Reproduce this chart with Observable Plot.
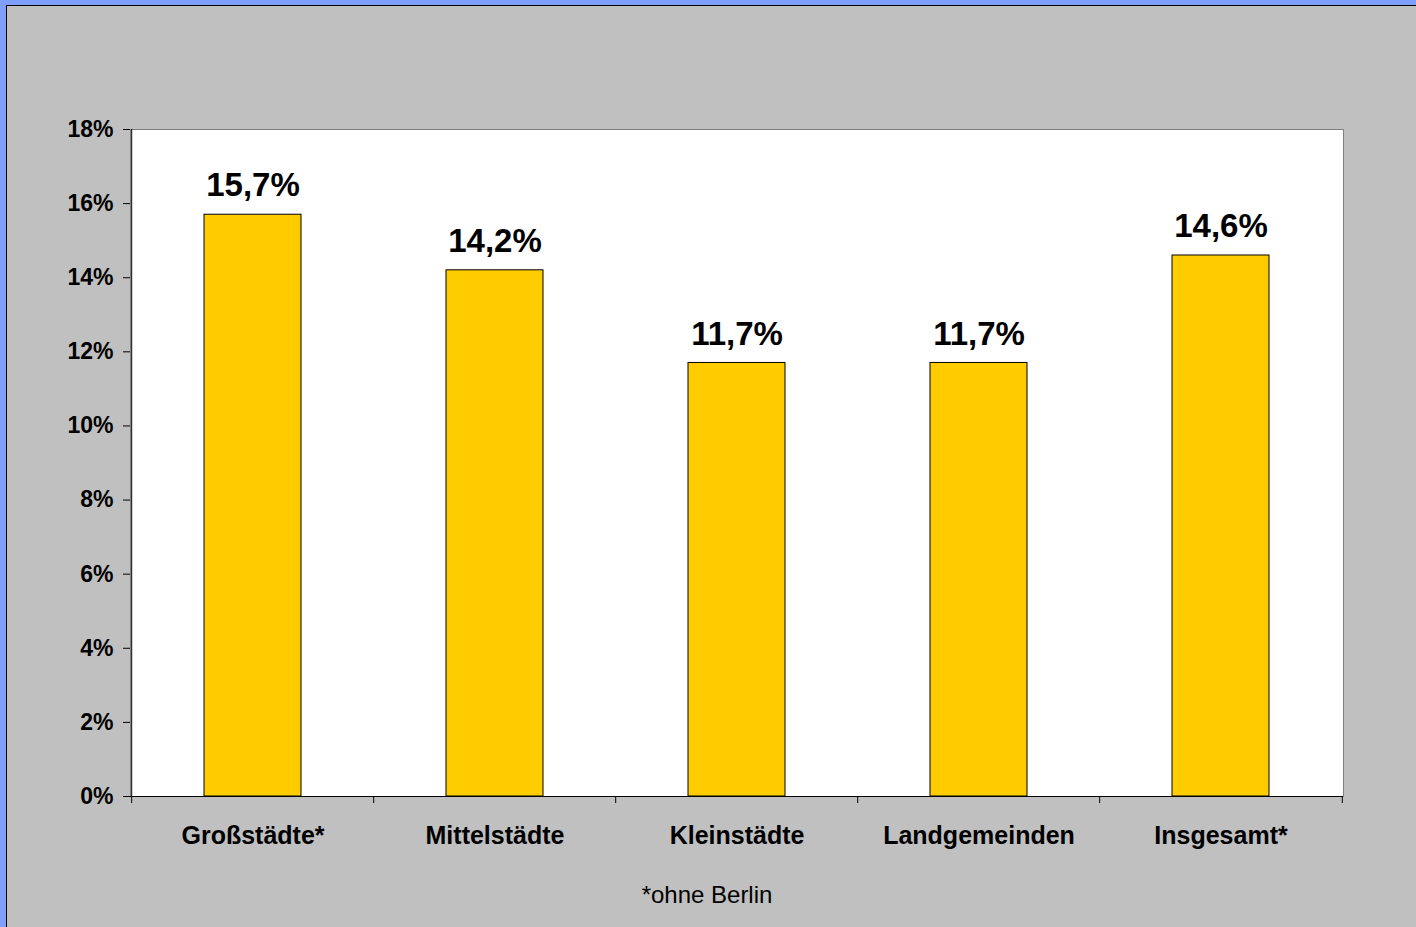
<!DOCTYPE html>
<html>
<head>
<meta charset="utf-8">
<script src="https://cdn.jsdelivr.net/npm/d3@7"></script>
<script src="https://cdn.jsdelivr.net/npm/@observablehq/plot@0.6"></script>
<style>
  html, body { margin: 0; padding: 0; background: #7f9fff; }
  #outer { position: absolute; left: 0; top: 0; width: 1416px; height: 927px; background: #7f9fff; overflow: hidden; }
  #line { position: absolute; left: 6px; top: 5px; width: 1410px; height: 922px; background: #000; }
  #chart { position: absolute; left: 7px; top: 6px; width: 1409px; height: 921px; }
  #chart svg { display: block; font-family: "Liberation Sans", Arial, sans-serif; }
  g[aria-label="x-axis tick label"] text, g[aria-label="y-axis tick label"] text { font-weight: bold; }
</style>
</head>
<body>
<div id="outer"><div id="line"></div><div id="chart"></div></div>
<script>
const categories = ["Großstädte*", "Mittelstädte", "Kleinstädte", "Landgemeinden", "Insgesamt*"];
const values = [15.7, 14.2, 11.7, 11.7, 14.6];
const yTicks = [0, 2, 4, 6, 8, 10, 12, 14, 16, 18];
const footnote = "*ohne Berlin";

const data = categories.map((c, i) => ({category: c, value: values[i]}));
const fmt = v => v.toFixed(1).replace(".", ",") + "%";

const W = 1409, H = 921, ML = 123, MR = 73, MT = 123, MB = 131;
const half = (W - ML - MR) / categories.length / 2;

const chart = Plot.plot({
  width: W,
  height: H,
  marginLeft: ML,
  marginRight: MR,
  marginTop: MT,
  marginBottom: MB,
  style: {background: "#c0c0c0", fontFamily: "Liberation Sans, Arial, sans-serif", color: "#000", overflow: "visible"},
  x: {domain: categories, paddingInner: 0.6, paddingOuter: 0.3, label: null},
  y: {domain: [0, 18], label: null},
  marks: [
    Plot.frame({fill: "white", stroke: "#808080"}),
    Plot.barY(data, {x: "category", y: "value", fill: "#ffcc00", stroke: "#000", strokeWidth: 1}),
    Plot.ruleX([categories[0]], {dx: -half, stroke: "#000"}),
    Plot.ruleY([0], {stroke: "#000"}),
    Plot.ruleX(categories, {x: d => d, dx: -half, y1: 0, y2: -0.19, stroke: "#000"}),
    Plot.ruleX([categories[categories.length - 1]], {dx: half, y1: 0, y2: -0.19, stroke: "#000"}),
    Plot.axisY({ticks: yTicks, tickFormat: d => d + "%", tickSize: 7, tickPadding: 10, fontSize: 23, fontWeight: "bold"}),
    Plot.axisX({tickSize: 0, tickPadding: 30, fontSize: 25, fontWeight: "bold"}),
    Plot.text(data, {x: "category", y: "value", text: d => fmt(d.value), dy: -29, fontSize: 33, fontWeight: "bold", fill: "#000"}),
    Plot.text([footnote], {frameAnchor: "bottom", dx: -30, dy: 106, fontSize: 24, fontWeight: "normal", fill: "#000"})
  ]
});
document.getElementById("chart").appendChild(chart);
</script>
</body>
</html>
